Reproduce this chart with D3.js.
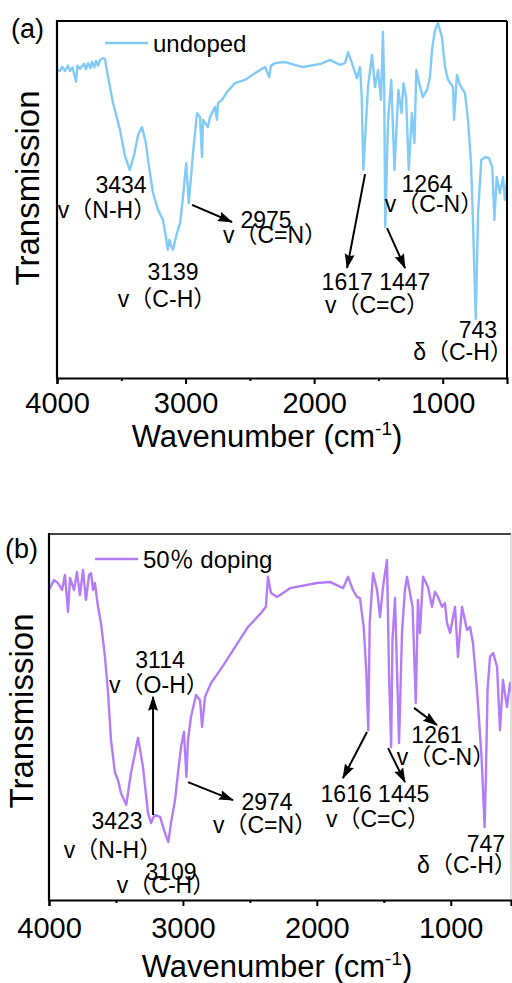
<!DOCTYPE html>
<html><head><meta charset="utf-8">
<script src="https://cdn.jsdelivr.net/npm/d3@7"></script>
<style>
body{margin:0;background:#fff}
svg{display:block}
text{font-family:"Liberation Sans",Arial,"Noto Sans CJK SC",sans-serif;fill:#000}
</style>
</head><body>
<svg id="c" width="512" height="983"></svg>
<script>
// ---------- data ----------
const xTicksMajor = [4000, 3000, 2000, 1000];
const xTicksMinor = [3500, 2500, 1500];
const panelNames = ["(a)", "(b)"];
const seriesNames = ["undoped", "50％ doping"];

// undoped spectrum [wavenumber, transmission a.u.]
const undopedSpectrum = [
[4000,86.3],[3977,86.0],[3960,87.2],[3938,86.0],[3915,87.5],[3899,86.0],[3880,87.0],[3852,83.0],[3840,87.5],[3821,86.6],
[3790,88.0],[3775,86.5],[3759,88.2],[3740,86.8],[3728,88.6],[3710,87.0],[3697,88.8],[3680,87.5],[3666,89.0],[3642,89.6],
[3627,89.4],[3603,84.3],[3564,77.0],[3510,69.5],[3470,62.0],[3434,58.3],[3400,62.5],[3370,68.0],[3339,70.3],[3310,66.0],
[3292,61.1],[3253,51.8],[3214,47.1],[3176,44.3],[3155,40.0],[3139,35.9],[3125,38.7],[3113,37.0],[3098,35.9],[3067,40.6],
[3043,43.4],[3020,50.7],[2995,60.2],[2985,54.6],[2975,49.0],[2942,63.0],[2911,74.2],[2888,73.1],[2872,61.9],[2864,72.3],
[2826,70.3],[2810,73.1],[2771,75.9],[2756,72.3],[2748,77.0],[2717,77.9],[2678,80.1],[2616,82.6],[2538,83.5],[2460,85.4],
[2382,87.1],[2350,84.3],[2335,87.5],[2304,88.2],[2227,88.5],[2087,87.1],[1950,88.0],[1877,89.1],[1799,87.7],[1760,88.2],
[1736,91.3],[1706,88.2],[1667,84.0],[1643,87.1],[1630,78.7],[1617,58.3],[1581,81.5],[1550,90.5],[1527,81.5],[1503,86.3],
[1480,77.9],[1465,96.9],[1455,81.5],[1447,42.3],[1425,72.3],[1400,83.5],[1375,58.3],[1345,80.7],[1320,74.2],[1305,82.6],
[1285,78.7],[1264,58.3],[1240,74.2],[1220,65.8],[1205,86.3],[1180,82.1],[1155,78.7],[1122,80.7],[1099,84.3],[1083,91.9],
[1060,97.5],[1037,99.4],[1006,95.5],[982,87.1],[959,83.5],[920,81.5],[912,72.3],[889,84.9],[866,82.1],[827,79.8],
[803,72.3],[780,60.2],[765,44.3],[752,27.5],[743,16.5],[725,46.2],[700,61.1],[665,61.9],[640,61.6],[615,59.1],
[598,44.3],[580,56.3],[555,51.8],[531,56.3],[516,49.9],[500,55.5]
];

// 50% doping spectrum
const dopedSpectrum = [
[4000,85.5],[3993,85.2],[3963,87.4],[3933,86.6],[3903,84.7],[3881,88.8],[3858,78.7],[3843,88.0],[3813,84.7],[3791,89.6],
[3769,83.3],[3746,90.2],[3724,82.0],[3701,88.8],[3686,89.3],[3671,84.7],[3657,86.6],[3634,80.1],[3612,75.7],[3582,66.4],
[3559,56.6],[3537,43.7],[3507,34.7],[3485,32.8],[3462,29.2],[3423,26.0],[3388,34.7],[3335,44.3],[3298,36.3],[3261,23.8],
[3238,21.0],[3223,22.4],[3208,23.2],[3171,22.7],[3134,18.3],[3109,15.8],[3089,21.0],[3059,27.3],[3037,34.7],[3014,41.8],
[2992,45.9],[2974,33.6],[2962,43.7],[2940,50.0],[2902,56.0],[2872,54.6],[2857,47.3],[2835,55.5],[2790,59.3],[2738,62.0],
[2686,64.8],[2611,69.1],[2514,74.6],[2417,78.4],[2380,80.1],[2365,88.3],[2342,83.9],[2297,82.8],[2200,85.2],[1999,86.6],
[1902,86.9],[1804,85.2],[1767,88.3],[1730,84.7],[1700,82.8],[1678,82.5],[1650,74.6],[1630,62.0],[1616,46.4],[1605,75.7],
[1580,89.3],[1550,84.7],[1528,77.3],[1506,85.5],[1476,92.9],[1461,62.0],[1445,41.8],[1435,71.0],[1416,82.5],[1386,42.9],
[1364,73.0],[1342,84.7],[1327,88.3],[1285,80.1],[1261,53.8],[1245,82.0],[1230,73.0],[1207,88.3],[1170,85.5],[1140,80.1],
[1118,84.2],[1095,82.8],[1065,80.1],[1043,81.1],[1028,75.7],[1005,73.0],[968,80.1],[946,66.4],[916,80.1],[878,73.8],
[856,74.6],[834,70.2],[804,57.4],[770,39.1],[747,19.9],[737,34.7],[725,57.4],[707,66.4],[684,67.5],[654,63.7],
[632,46.4],[610,60.1],[580,52.7],[557,59.3],[550,57.0]
];

// annotation texts, anchored (centre, baseline) in data units
const undopedLabels = [
  {text:"3434", wn:3502, t:51.8}, {text:"v（N-H）", wn:3611, t:44.8},
  {text:"3139", wn:3098, t:27.5}, {text:"v（C-H）", wn:3144, t:19.9},
  {text:"2975", wn:2374, t:42.0}, {text:"v（C=N）", wn:2304, t:37.8},
  {text:"1264", wn:1122, t:52.1}, {text:"v（C-N）", wn:1068, t:46.5},
  {text:"1617 1447", wn:1519, t:24.6}, {text:"v（C=C）", wn:1511, t:18.2},
  {text:"743", wn:726, t:11.2}, {text:"δ（C-H）", wn:842, t:5.0}
];
const undopedArrows = [
  {from:[2950,48.5], to:[2639,43.7]},
  {from:[1604,57.1], to:[1744,30.8]},
  {from:[1433,42.0], to:[1293,30.8]}
];
const dopedLabels = [
  {text:"3114", wn:3171, t:63.4}, {text:"v（O-H）", wn:3179, t:56.6},
  {text:"3423", wn:3492, t:19.4}, {text:"v（N-H）", wn:3522, t:11.5},
  {text:"3109", wn:3089, t:5.5}, {text:"v（C-H）", wn:3126, t:1.9},
  {text:"2974", wn:2372, t:24.6}, {text:"v（C=N）", wn:2387, t:18.3},
  {text:"1616 1445", wn:1566, t:26.8}, {text:"v（C=C）", wn:1543, t:19.9},
  {text:"1261", wn:1103, t:42.9}, {text:"v（C-N）", wn:1035, t:36.9},
  {text:"747", wn:737, t:13.1}, {text:"δ（C-H）", wn:879, t:7.4}
];
const dopedArrows = [
  {from:[3223,23.2], to:[3223,55.5]},
  {from:[2962,32.2], to:[2626,27.3]},
  {from:[1625,45.9], to:[1805,33.3]},
  {from:[1468,41.5], to:[1342,32.2]},
  {from:[1274,52.5], to:[1103,47.8]}
];

// ---------- drawing ----------
const svg = d3.select("#c");
const defs = svg.append("defs");
defs.append("marker").attr("id","ah").attr("markerUnits","userSpaceOnUse")
  .attr("markerWidth",16).attr("markerHeight",12).attr("refX",14).attr("refY",5)
  .attr("orient","auto")
  .append("path").attr("d","M0,0 L15,5 L0,10 L2,5 Z").attr("fill","#000");

function panel(cfg){
  const x = d3.scaleLinear().domain(cfg.xDomain).range([cfg.left, cfg.right]);
  const y = d3.scaleLinear().domain([0,100]).range([cfg.bottom, cfg.top]);
  const g = svg.append("g");
  const clipId = "clip"+cfg.id;
  defs.append("clipPath").attr("id",clipId).append("rect")
    .attr("x",cfg.left).attr("y",cfg.top).attr("width",cfg.right-cfg.left).attr("height",cfg.bottom-cfg.top);

  // spectrum
  g.append("path").datum(cfg.data)
    .attr("clip-path",`url(#${clipId})`)
    .attr("fill","none").attr("stroke",cfg.color).attr("stroke-width",2.4)
    .attr("stroke-linejoin","round")
    .attr("d", d3.line().x(d=>x(d[0])).y(d=>y(d[1])));

  // frame
  g.append("line").attr("x1",cfg.left).attr("x2",cfg.right).attr("y1",cfg.top).attr("y2",cfg.top)
    .attr("stroke",cfg.topColor).attr("stroke-width",2);
  g.append("line").attr("x1",cfg.right).attr("x2",cfg.right).attr("y1",cfg.top).attr("y2",cfg.bottom)
    .attr("stroke",cfg.rightColor).attr("stroke-width",cfg.rightWidth);
  g.append("line").attr("x1",cfg.left).attr("x2",cfg.left).attr("y1",cfg.top-1).attr("y2",cfg.bottom+1)
    .attr("stroke","#000").attr("stroke-width",2.2);

  // bottom axis
  const ax = g.append("g").attr("transform",`translate(0,${cfg.bottom})`)
    .call(d3.axisBottom(x).tickValues(xTicksMajor).tickSize(6).tickPadding(4).tickFormat(d3.format("d")));
  ax.select(".domain").attr("stroke","#000").attr("stroke-width",2.2);
  ax.selectAll(".tick line").attr("stroke","#000").attr("stroke-width",2);
  ax.selectAll(".tick text").attr("font-size",29).attr("font-family",'"Liberation Sans",Arial,sans-serif')
    .attr("fill","#000").attr("dy",null).attr("y",cfg.tickY);
  const mx = g.append("g").attr("transform",`translate(0,${cfg.bottom})`)
    .call(d3.axisBottom(x).tickValues(xTicksMinor).tickSize(3).tickFormat(""));
  mx.select(".domain").remove();
  mx.selectAll(".tick line").attr("stroke","#000").attr("stroke-width",2);

  // axis titles
  const xt = g.append("text").attr("x",cfg.xTitleX).attr("y",cfg.xTitleY)
    .attr("text-anchor","middle").attr("font-size",31);
  xt.append("tspan").text("Wavenumber (cm");
  xt.append("tspan").text("-1").attr("font-size",19).attr("dy",-12);
  xt.append("tspan").text(")").attr("dy",12);
  g.append("text").attr("transform",`translate(${cfg.yTitleX},${cfg.yTitleY}) rotate(-90)`)
    .attr("text-anchor","middle").attr("font-size",33).text("Transmission");

  // panel letter
  g.append("text").attr("x",cfg.letterX).attr("y",cfg.letterY).attr("font-size",27).text(cfg.letter);

  // legend
  g.append("line").attr("x1",cfg.legX1).attr("x2",cfg.legX2).attr("y1",cfg.legY).attr("y2",cfg.legY)
    .attr("stroke",cfg.color).attr("stroke-width",2.4);
  g.append("text").attr("x",cfg.legX2+5).attr("y",cfg.legY+9).attr("font-size",24).text(cfg.name);

  // arrows
  g.selectAll(".arr").data(cfg.arrows).join("line")
    .attr("x1",d=>x(d.from[0])).attr("y1",d=>y(d.from[1]))
    .attr("x2",d=>x(d.to[0])).attr("y2",d=>y(d.to[1]))
    .attr("stroke","#000").attr("stroke-width",2).attr("marker-end","url(#ah)");

  // labels
  g.selectAll(".lab").data(cfg.labels).join("text")
    .attr("x",d=>x(d.wn)).attr("y",d=>y(d.t))
    .attr("text-anchor","middle").attr("font-size",23).text(d=>d.text);
}

panel({id:"a", xDomain:[4000,500], left:57, right:507, top:21, bottom:378,
  data:undopedSpectrum, color:"#82CAF8", labels:undopedLabels, arrows:undopedArrows,
  topColor:"#000", rightColor:"#000", rightWidth:2,
  tickY:35, xTitleX:267, xTitleY:447, yTitleX:39, yTitleY:188,
  letter:panelNames[0], letterX:11, letterY:38,
  legX1:105, legX2:148, legY:43, name:seriesNames[0]});

panel({id:"b", xDomain:[4000,550], left:49, right:511, top:534, bottom:900,
  data:dopedSpectrum, color:"#B47CF7", labels:dopedLabels, arrows:dopedArrows,
  topColor:"#444", rightColor:"#bbb", rightWidth:1,
  tickY:38, xTitleX:277, xTitleY:977, yTitleX:33, yTitleY:711,
  letter:panelNames[1], letterX:5, letterY:558,
  legX1:95, legX2:138, legY:559, name:seriesNames[1]});
</script>
</body></html>
